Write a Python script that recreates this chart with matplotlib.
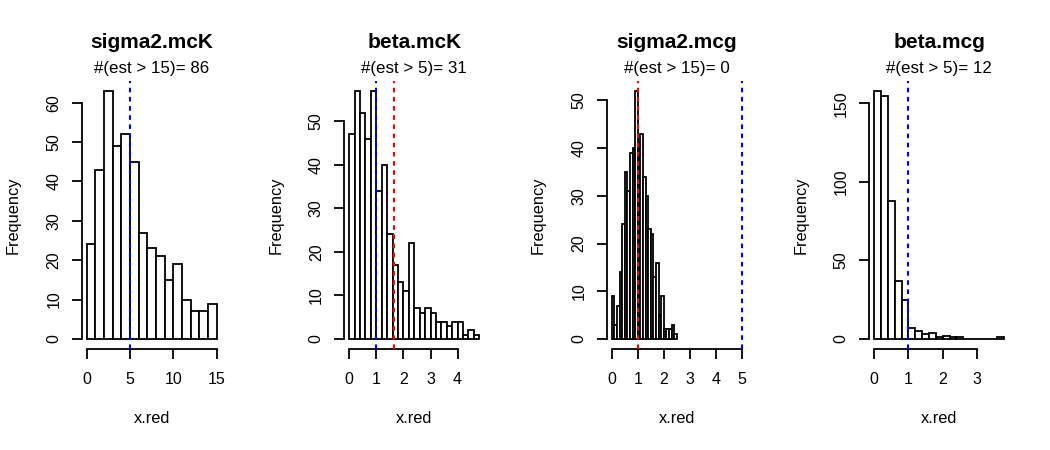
import matplotlib
matplotlib.use("Agg")
import matplotlib.pyplot as plt
import numpy as np

plt.rcParams["font.family"] = ["Liberation Sans", "DejaVu Sans"]

# panel titles and the "#(est > limit)" counts
titles = ["sigma2.mcK", "beta.mcK", "sigma2.mcg", "beta.mcg"]
subtitles = ["#(est > 15)= 86", "#(est > 5)= 31", "#(est > 15)= 0", "#(est > 5)= 12"]

# histogram bins: first break, bin width, counts
sigma2_mcK_start, sigma2_mcK_width = 0.0, 1.0
sigma2_mcK_counts = [24, 43, 63, 49, 52, 45, 27, 23, 21, 15, 19, 10, 7, 7, 9]

beta_mcK_start, beta_mcK_width = 0.0, 0.2
beta_mcK_counts = [47, 57, 52, 46, 57, 34, 40, 24, 17, 13, 11, 22,
                   7, 6, 7, 6, 4, 4, 3, 4, 4, 1, 2, 1]

sigma2_mcg_start, sigma2_mcg_width = 0.0, 0.1
sigma2_mcg_counts = [9, 3, 7, 14, 24, 35, 31, 39, 40, 52, 41, 43, 34,
                     30, 23, 22, 13, 16, 5, 9, 2, 2, 2, 3, 1]

beta_mcg_start, beta_mcg_width = 0.0, 0.2
beta_mcg_counts = [158, 155, 88, 37, 25, 7, 5, 3, 4, 1, 2, 1, 1,
                   0, 0, 0, 0, 0, 1]

# x range shown on each panel
x_ranges = [(0, 15), (0, 4.8), (0, 5), (0, 3.8)]

# reference lines: (position, colour)
vlines = [
    [(5, "blue")],
    [(1, "blue"), (1.64, "red")],
    [(1, "red"), (5, "blue")],
    [(1, "blue")],
]

# tick labels
x_ticks = [[0, 5, 10, 15], [0, 1, 2, 3, 4], [0, 1, 2, 3, 4, 5], [0, 1, 2, 3]]
y_ticks = [[0, 10, 20, 30, 40, 50, 60], [0, 10, 20, 30, 40, 50],
           [0, 10, 20, 30, 40, 50], [0, 50, 100, 150]]

hists = [
    (sigma2_mcK_start, sigma2_mcK_width, sigma2_mcK_counts),
    (beta_mcK_start, beta_mcK_width, beta_mcK_counts),
    (sigma2_mcg_start, sigma2_mcg_width, sigma2_mcg_counts),
    (beta_mcg_start, beta_mcg_width, beta_mcg_counts),
]

fig = plt.figure(figsize=(10.5, 4.5), dpi=100)

W, H = 1050.0, 450.0
ax_w = 140.5 / W
ax_h = 268.0 / H
ax_b = 1 - 348.9 / H
lw = 1.3

for i in range(4):
    left = (81.5 + 262.5 * i) / W
    ax = fig.add_axes([left, ax_b, ax_w, ax_h])
    start, width, counts = hists[i]
    counts = np.array(counts)
    edges = start + width * np.arange(len(counts))
    ax.bar(edges, counts, width=width, align="edge", color="white",
           edgecolor="black", linewidth=1.3, zorder=2)

    for pos, col in vlines[i]:
        ax.axvline(pos, color=col, linestyle=(0, (2.2, 2.2)), linewidth=1.5, zorder=3)

    x0, x1 = x_ranges[i]
    dx = 0.04 * (x1 - x0)
    ax.set_xlim(x0 - dx, x1 + dx)
    ymax = counts.max()
    ax.set_ylim(-0.04 * ymax, 1.04 * ymax)

    for s in ["top", "right"]:
        ax.spines[s].set_visible(False)
    for s in ["left", "bottom"]:
        ax.spines[s].set_linewidth(lw)
    ax.spines["bottom"].set_bounds(x_ticks[i][0], x_ticks[i][-1])
    ax.spines["left"].set_bounds(y_ticks[i][0], y_ticks[i][-1])

    ax.set_xticks(x_ticks[i])
    ax.set_xticklabels([str(t) for t in x_ticks[i]])
    ax.set_yticks(y_ticks[i])
    ax.set_yticklabels([str(t) for t in y_ticks[i]], rotation=90, va="center")
    ax.tick_params(axis="both", direction="out", length=7, width=lw, labelsize=11.5)
    ax.tick_params(axis="x", pad=9.5)
    ax.tick_params(axis="y", pad=7.5)

    ax.set_xlabel("x.red", fontsize=11.8)
    ax.xaxis.set_label_coords(0.5, -0.258)
    ax.xaxis.label.set_va("center")
    ax.set_ylabel("Frequency", fontsize=11.8)
    ax.yaxis.set_label_coords(-0.486, 0.5)
    ax.yaxis.label.set_va("center")

    ax.text(0.5, 1.1425, titles[i], transform=ax.transAxes, ha="center",
            va="center", fontsize=15, fontweight="bold")
    ax.text(0.5, 1.048, subtitles[i], transform=ax.transAxes, ha="center",
            va="center", fontsize=12.2)

fig.savefig("out.png", dpi=100)
